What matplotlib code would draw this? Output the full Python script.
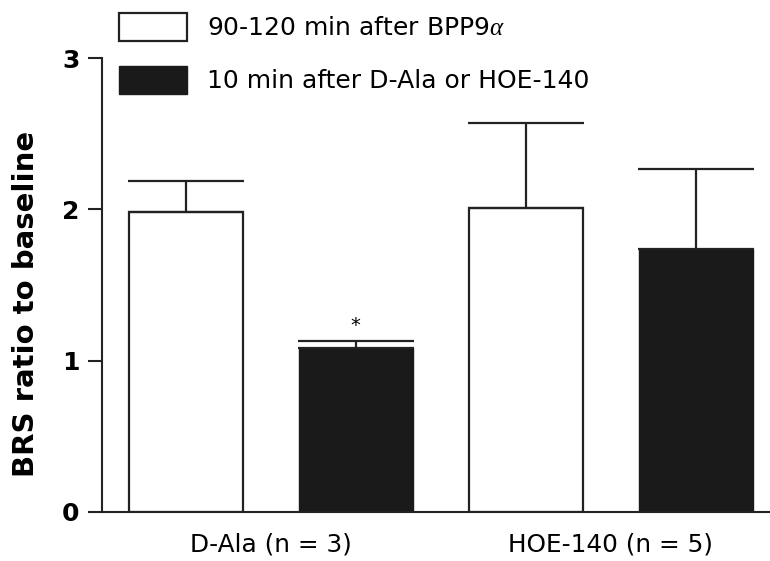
import matplotlib
matplotlib.use("Agg")
import matplotlib.pyplot as plt

# data
groups = ["D-Ala (n = 3)", "HOE-140 (n = 5)"]
after_bpp = [1.98, 2.01]        # 90-120 min after BPP9a
after_bpp_err = [0.21, 0.56]
after_drug = [1.08, 1.74]       # 10 min after D-Ala or HOE-140
after_drug_err = [0.05, 0.53]
labels = ["90-120 min after BPP9$\\alpha$", "10 min after D-Ala or HOE-140"]
yticks = [0, 1, 2, 3]

plt.rcParams["font.family"] = ["DejaVu Sans"]
plt.rcParams["mathtext.fontset"] = "custom"
plt.rcParams["mathtext.rm"] = "Liberation Serif"
plt.rcParams["mathtext.it"] = "Liberation Serif:italic"

fig = plt.figure(figsize=(7.7, 5.61), dpi=100)
ax = fig.add_axes([101.7 / 770, 49.3 / 561, 668 / 770, 453.4 / 561])

x_white = [0, 2]
x_black = [1, 3]
w = 0.67
ax.bar(x_white, after_bpp, width=w, color="white", edgecolor="#222222", linewidth=1.6,
       yerr=[[0, 0], after_bpp_err], capsize=42,
       error_kw=dict(ecolor="#222222", elinewidth=1.6, capthick=1.6), label=labels[0], zorder=2)
ax.bar(x_black, after_drug, width=w, color="#1a1a1a", edgecolor="#1a1a1a", linewidth=1.0,
       yerr=[[0, 0], after_drug_err], capsize=42,
       error_kw=dict(ecolor="#222222", elinewidth=1.6, capthick=1.6), label=labels[1], zorder=2)

# significance marker
ax.text(x_black[0], after_drug[0] + after_drug_err[0] + 0.04, "*", ha="center", va="bottom",
        fontsize=14)

ax.set_xlim(-0.495, 3.435)
ax.set_ylim(0, 3)
ax.set_yticks(yticks)
ax.set_yticklabels([str(t) for t in yticks], fontweight="bold", fontsize=18)
ax.set_xticks([0.5, 2.5])
ax.set_xticklabels(groups, fontsize=17.8)
ax.tick_params(axis="x", length=0, pad=15)
ax.tick_params(axis="y", length=10, width=1.5, pad=6, color="#222222")
ax.set_ylabel("BRS ratio to baseline", fontweight="bold", fontsize=21)
ax.yaxis.set_label_coords(-0.092, 0.458)

for s in ["top", "right"]:
    ax.spines[s].set_visible(False)
for s in ["left", "bottom"]:
    ax.spines[s].set_linewidth(1.5)
    ax.spines[s].set_color("#222222")

fig.legend(loc="upper left", bbox_to_anchor=(114 / 770, 1 - 8 / 561), frameon=False,
           fontsize=18, handlelength=2.72, handleheight=1.35, handletextpad=0.8,
           labelspacing=1.0, borderaxespad=0, borderpad=0.2)

fig.savefig("out.png", dpi=100)
